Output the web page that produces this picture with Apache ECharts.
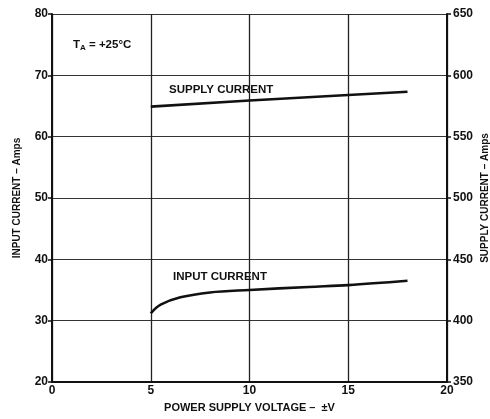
<!DOCTYPE html>
<html>
<head>
<meta charset="utf-8">
<script src="https://cdn.jsdelivr.net/npm/echarts@6/dist/echarts.min.js"></script>
<style>html,body{margin:0;padding:0;background:#fff}#c{width:490px;height:419px}</style>
</head>
<body>
<div id="c"></div>
<script>
// Data
const xTicks = [0, 5, 10, 15, 20];
const inputVoltage = [5, 5.5, 6.5, 8, 10, 13, 15, 18];
const inputCurrent = [31.2, 32.6, 33.8, 34.6, 35.0, 35.5, 35.8, 36.5];   // left axis
const supplyVoltage = [5, 10, 15, 18];
const supplyCurrent = [574.5, 579.5, 584.0, 586.6];   // right axis

const FONT = 'Liberation Sans';
const chart = echarts.init(document.getElementById('c'));
const axisCommon = {
  axisLine: {show: true, lineStyle: {color: '#111', width: 2}},
  axisTick: {show: true, inside: false, length: 4, lineStyle: {color: '#111', width: 1.5}},
  axisLabel: {color: '#111', fontFamily: FONT, fontWeight: 'bold', fontSize: 12}
};
chart.setOption({
  animation: false,
  backgroundColor: '#fff',
  grid: {left: 52, right: 43, top: 14, bottom: 37, outerBoundsMode: 'none', containLabel: false},
  xAxis: Object.assign({}, axisCommon, {
    type: 'value', min: 0, max: 20, interval: 5,
    name: 'POWER SUPPLY VOLTAGE –  ±V', nameLocation: 'middle', nameGap: 20,
    nameTextStyle: {color: '#111', fontFamily: FONT, fontWeight: 'bold', fontSize: 11},
    axisTick: {show: false},
    axisLabel: Object.assign({}, axisCommon.axisLabel, {margin: 3}),
    splitLine: {show: true, lineStyle: {color: '#222', width: 1.3}}
  }),
  yAxis: [
    Object.assign({}, axisCommon, {
      type: 'value', min: 20, max: 80, interval: 10, position: 'left',
      name: 'INPUT CURRENT – Amps', nameLocation: 'middle', nameGap: 30, nameMoveOverlap: false,
      nameTextStyle: {color: '#111', fontFamily: FONT, fontWeight: 'bold', fontSize: 10},
      axisLabel: Object.assign({}, axisCommon.axisLabel, {margin: 4}),
      splitLine: {show: true, lineStyle: {color: '#333', width: 1}}
    }),
    Object.assign({}, axisCommon, {
      type: 'value', min: 350, max: 650, interval: 50, position: 'right',
      name: 'SUPPLY CURRENT – Amps', nameLocation: 'middle', nameGap: 33, nameMoveOverlap: false,
      nameTextStyle: {color: '#111', fontFamily: FONT, fontWeight: 'bold', fontSize: 10},
      axisLabel: Object.assign({}, axisCommon.axisLabel, {margin: 6}),
      splitLine: {show: false}
    })
  ],
  series: [
    {
      type: 'line', yAxisIndex: 0, smooth: 0.35, showSymbol: false,
      lineStyle: {color: '#111', width: 2.6},
      data: inputVoltage.map((v, i) => [v, inputCurrent[i]])
    },
    {
      type: 'line', yAxisIndex: 1, smooth: false, showSymbol: false,
      lineStyle: {color: '#111', width: 2.6},
      data: supplyVoltage.map((v, i) => [v, supplyCurrent[i]])
    }
  ],
  graphic: [
    {type: 'text', left: 73, top: 39, style: {
      text: '{t|T}{s|A}{t| = +25°C}',
      rich: {
        t: {fontFamily: FONT, fontWeight: 'bold', fontSize: 11.5, fill: '#111'},
        s: {fontFamily: FONT, fontWeight: 'bold', fontSize: 8, fill: '#111', padding: [5, 0, 0, 0]}
      }
    }},
    {type: 'text', left: 169, top: 84, style: {
      text: 'SUPPLY CURRENT', fontFamily: FONT, fontWeight: 'bold', fontSize: 11.5, fill: '#111'}},
    {type: 'text', left: 173, top: 271, style: {
      text: 'INPUT CURRENT', fontFamily: FONT, fontWeight: 'bold', fontSize: 11.5, fill: '#111'}}
  ]
});
</script>
</body>
</html>
